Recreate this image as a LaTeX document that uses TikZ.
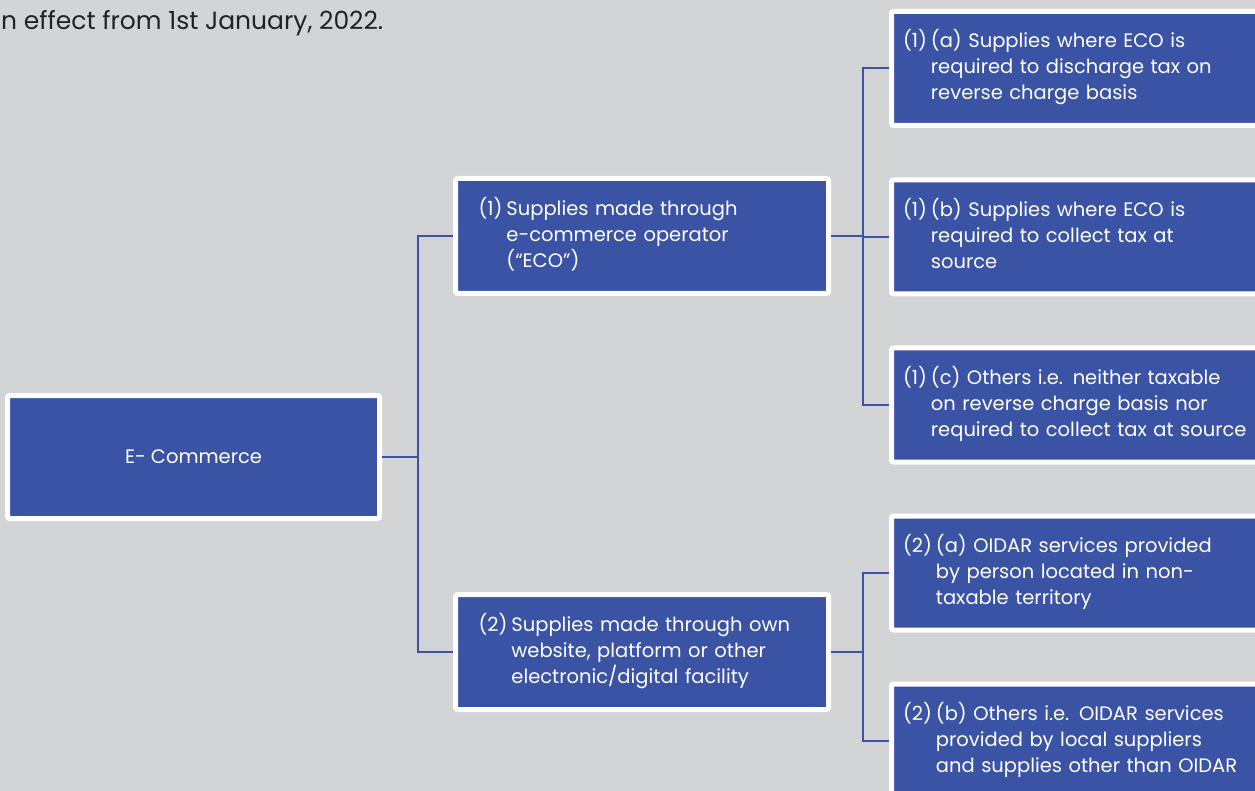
\documentclass[tikz,border=0pt]{standalone}
\usepackage{fontspec}
\setmainfont{Poppins}
\definecolor{bg}{HTML}{D3D4D6}
\definecolor{boxblue}{HTML}{3A53A4}
\definecolor{txtgray}{HTML}{222222}
\newcommand\hng[2]{\begin{tabular}{@{}l@{\hspace{4pt}}l@{}}#1&#2\end{tabular}}
\tikzset{
  bx/.style={draw=white, line width=5pt, fill=boxblue, rounded corners=2pt, text=white,
    font=\fontsize{19.5}{26}\selectfont, align=left, anchor=center},
  rbox/.style={bx, text width=365pt, inner xsep=11.5pt, minimum height=114pt},
  mbox/.style={bx, text width=327pt, inner xsep=23pt, minimum height=115pt},
  conn/.style={draw=boxblue, line width=2pt}
}
\begin{document}
\begin{tikzpicture}[x=1pt,y=-1pt]
\useasboundingbox (0,0) rectangle (1255,791);
\clip (0,0) rectangle (1255,791);
\fill[bg] (0,0) rectangle (1255,791);
\node[anchor=base west, text=txtgray, font=\fontsize{25}{30}\selectfont, inner sep=0pt] (note) at (1,30) {n effect from 1st January, 2022.};
% coordinates of junctions
\coordinate (j1) at (418,0);
\coordinate (j2) at (863,0);
% nodes
\node[bx, align=center, minimum width=372pt, minimum height=123pt, inner sep=0pt] (ec) at (193.5,457) {E- Commerce};
\node[mbox] (b1) at (642,236) {\hng{(1)}{Supplies made through\\&e-commerce operator\\&(``ECO'')}};
\node[mbox] (b2) at (642,652) {\hng{(2)}{Supplies made through own\\&website, platform or other\\&electronic/digital facility}};
\node[rbox] (a1) at (1085.5,68.5) {\hng{(1)}{(a) Supplies where ECO is\\&required to discharge tax on\\&reverse charge basis}};
\node[rbox] (a2) at (1085.5,237) {\hng{(1)}{(b) Supplies where ECO is\\&required to collect tax at\\&source}};
\node[rbox] (a3) at (1085.5,405) {\hng{(1)}{(c) Others i.e. neither taxable\\&on reverse charge basis nor\\&required to collect tax at source}};
\node[rbox] (c1) at (1085.5,573) {\hng{(2)}{(a) OIDAR services provided\\&by person located in non-\\&taxable territory}};
\node[rbox] (c2) at (1085.5,741) {\hng{(2)}{(b) Others i.e. OIDAR services\\&provided by local suppliers\\&and supplies other than OIDAR}};
% connectors
\draw[conn] (ec.east) -- (ec.east -| j1);
\draw[conn] (b1.west) -- (b1.west -| j1) -- (b2.west -| j1) -- (b2.west);
\draw[conn] (b1.east) -- (b1.east -| j2);
\draw[conn] (a2.west) -- (a2.west -| j2);
\draw[conn] (a1.west) -- (a1.west -| j2) -- (a3.west -| j2) -- (a3.west);
\draw[conn] (b2.east) -- (b2.east -| j2);
\draw[conn] (c1.west) -- (c1.west -| j2) -- (c2.west -| j2) -- (c2.west);
\end{tikzpicture}
\end{document}
